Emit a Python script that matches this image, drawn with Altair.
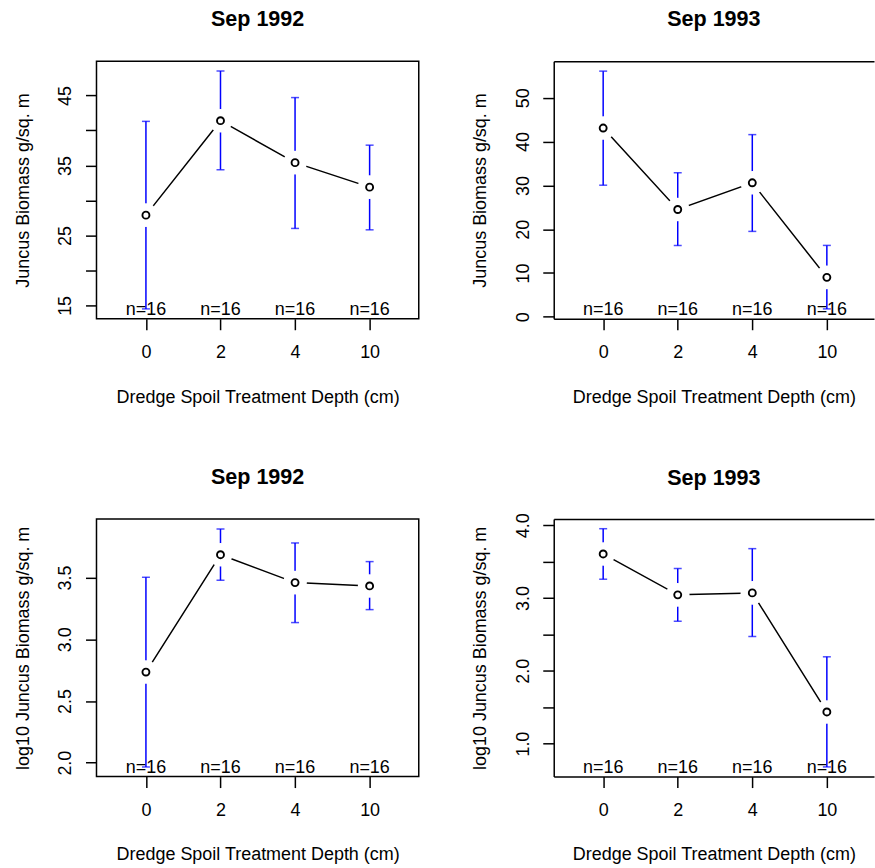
import json
import altair as alt
import pandas as pd

FONT = "Liberation Sans"

# ---------------- data ----------------
depth_labels = ["0", "2", "4", "10"]
depth_index = [1, 2, 3, 4]
n_labels = ["n=16", "n=16", "n=16", "n=16"]

panel_titles = ["Sep 1992", "Sep 1993", "Sep 1992", "Sep 1993"]
y_titles = ["Juncus Biomass g/sq. m", "Juncus Biomass g/sq. m",
            "log10 Juncus Biomass g/sq. m", "log10 Juncus Biomass g/sq. m"]
x_title = "Dredge Spoil Treatment Depth (cm)"

mean_1992 = [27.9, 41.4, 35.4, 31.9]
lower_1992 = [14.5, 34.4, 26.0, 25.8]
upper_1992 = [41.3, 48.5, 44.7, 37.9]

mean_1993 = [43.1, 24.5, 30.6, 9.0]
lower_1993 = [30.05, 16.25, 19.5, 1.8]
upper_1993 = [56.1, 32.9, 41.6, 16.3]

mean_1992_log = [2.734, 3.685, 3.459, 3.432]
lower_1992_log = [1.965, 3.478, 3.135, 3.24]
upper_1992_log = [3.502, 3.893, 3.78, 3.629]

mean_1993_log = [3.606, 3.044, 3.071, 1.435]
lower_1993_log = [3.259, 2.683, 2.472, 0.68]
upper_1993_log = [3.953, 3.405, 3.679, 2.193]

y_domains = [[13.09, 49.9], [-0.455, 58.37], [1.887, 3.974], [0.547, 4.086]]
y_ticks = [[15, 20, 25, 30, 35, 40, 45], [0, 10, 20, 30, 40, 50],
           [2.0, 2.5, 3.0, 3.5], [1.0, 1.5, 2.0, 2.5, 3.0, 3.5, 4.0]]
y_tick_labels = [[15, 25, 35, 45], [0, 10, 20, 30, 40, 50],
                 [2.0, 2.5, 3.0, 3.5], [1.0, 2.0, 3.0, 4.0]]
y_formats = ["d", "d", ".1f", ".1f"]

series = [
    (mean_1992, lower_1992, upper_1992),
    (mean_1993, lower_1993, upper_1993),
    (mean_1992_log, lower_1992_log, upper_1992_log),
    (mean_1993_log, lower_1993_log, upper_1993_log),
]

# ---------------- layout ----------------
LEFT_W = 323.3
RIGHT_W = 321.3
H = 258.4
STEP = 74.8
EDGE = 49.6
BLUE = "#0000FF"
TITLE_DY = [0, 0, 0, 7]


def panel(k, width, framed):
    mean, lower, upper = series[k]
    df = pd.DataFrame({"i": depth_index, "mean": mean, "lower": lower,
                       "upper": upper, "n": n_labels})
    x0 = 1 - EDGE / STEP
    xscale = alt.Scale(domain=[x0, x0 + width / STEP], nice=False, zero=False)
    yscale = alt.Scale(domain=y_domains[k], nice=False, zero=False)

    x_axis = alt.Axis(
        values=depth_index,
        labelExpr=json.dumps(depth_labels) + "[datum.value - 1]",
        labelAngle=0, labelFlush=False, labelOverlap=False,
        labelFont=FONT, labelFontSize=18, labelColor="black",
        labelBaseline="top", labelAlign="center", labelPadding=13.6,
        tickSize=11, tickWidth=1.5, tickColor="black",
        domain=not framed, domainColor="black", domainWidth=1.5,
        grid=False,
        title=x_title, titleFont=FONT, titleFontSize=18,
        titleFontWeight="normal", titleColor="black",
        titleX=width / 2, titleY=83.6, titleAlign="center",
        titleBaseline="alphabetic", titleAngle=0,
    )
    label_set = json.dumps(y_tick_labels[k])
    y_axis = alt.Axis(
        values=y_ticks[k], format=y_formats[k],
        labelExpr=f"indexof({label_set}, datum.value) >= 0 ? datum.label : ''",
        labelAngle=270, labelFlush=False, labelOverlap=False,
        labelFont=FONT, labelFontSize=18, labelColor="black",
        labelAlign="center", labelBaseline="alphabetic", labelPadding=14.7,
        tickSize=11, tickWidth=1.5, tickColor="black",
        domain=not framed, domainColor="black", domainWidth=1.5,
        grid=False,
        title=y_titles[k], titleFont=FONT, titleFontSize=18,
        titleFontWeight="normal", titleColor="black",
        titleX=-68.7, titleY=H / 2, titleAngle=270, titleAlign="center",
        titleBaseline="alphabetic",
    )

    base = alt.Chart(df)
    xe = alt.X("i:Q", scale=xscale, axis=x_axis)
    ye = lambda f: alt.Y(f"{f}:Q", scale=yscale, axis=y_axis)

    bars = base.mark_rule(color=BLUE, strokeWidth=1.5).encode(
        x=xe, y=ye("lower"), y2="upper:Q")
    cap_top = base.mark_tick(color=BLUE, orient="horizontal", size=8,
                             thickness=1.5).encode(x=xe, y=ye("upper"))
    cap_bot = base.mark_tick(color=BLUE, orient="horizontal", size=8,
                             thickness=1.5).encode(x=xe, y=ye("lower"))
    line = base.mark_line(color="black", strokeWidth=1.5).encode(
        x=xe, y=ye("mean"))
    halo = base.mark_point(shape="circle", filled=True, color="white",
                           opacity=1, size=560).encode(x=xe, y=ye("mean"))
    pts = base.mark_point(shape="circle", filled=False, fill="white",
                          fillOpacity=1, color="black", opacity=1,
                          strokeWidth=1.9, size=49).encode(x=xe, y=ye("mean"))
    ntext = base.mark_text(font=FONT, fontSize=18, color="black",
                           baseline="alphabetic", align="center",
                           dy=-3.7).encode(
        x=xe, y=alt.YDatum(y_domains[k][0], scale=yscale, axis=y_axis),
        text="n:N")

    ch = alt.layer(bars, cap_top, cap_bot, line, halo, pts, ntext)
    if not framed:
        top_axis = base.mark_point(opacity=0).encode(
            x=alt.X("i:Q", scale=xscale,
                    axis=alt.Axis(orient="top", labels=False, ticks=False,
                                  domain=True, domainColor="black",
                                  domainWidth=1.5, grid=False, title=None)),
            y=alt.Y("mean:Q", scale=yscale, axis=y_axis),
        )
        ch = alt.layer(ch, top_axis).resolve_axis(x="independent")
    view = (alt.ViewBackground(stroke="black", strokeWidth=1.5) if framed
            else alt.ViewBackground(stroke="transparent"))
    return ch.properties(
        width=width, height=H, view=view,
        title=alt.TitleParams(panel_titles[k], font=FONT, fontSize=21.6,
                              fontWeight="bold", color="black",
                              anchor="middle", baseline="alphabetic",
                              offset=13.6, dy=TITLE_DY[k]),
    )


p1 = panel(0, LEFT_W, True)
p2 = panel(1, RIGHT_W, False)
p3 = panel(2, LEFT_W, True)
p4 = panel(3, RIGHT_W, False)

chart = alt.concat(p1, p2, p3, p4, columns=2,
                   spacing=alt.RowColnumber(row=200.3, column=134.7),
                   bounds="flush").properties(
    padding={"left": 12.8, "top": 7, "right": 0, "bottom": 0},
    autosize=alt.AutoSizeParams(type="pad"),
    background="white",
).configure(font=FONT)

chart.save("out.html", embed_options={"renderer": "svg", "actions": False})
